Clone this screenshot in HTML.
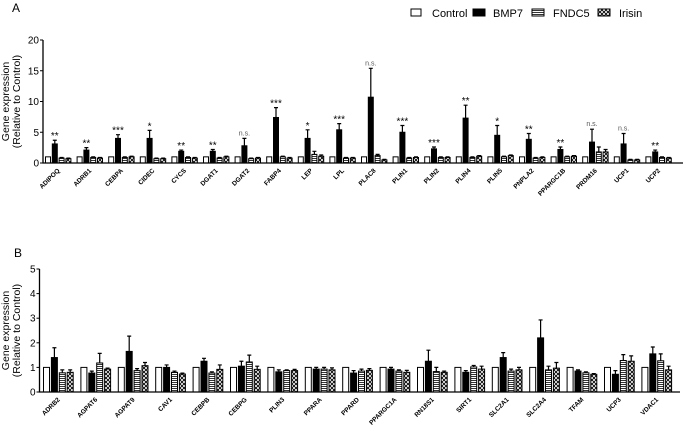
<!DOCTYPE html>
<html><head><meta charset="utf-8"><style>
body{margin:0;background:#fff;}
svg{display:block;font-family:"Liberation Sans",Arial,sans-serif;}
</style></head><body>
<svg id="chart" width="686" height="433" viewBox="0 0 686 433">
<defs>
<pattern id="hlines" patternUnits="userSpaceOnUse" width="4" height="2"><rect width="4" height="2" fill="#fff"/><line x1="0" y1="0.5" x2="4" y2="0.5" stroke="#000" stroke-width="0.8"/></pattern>
<pattern id="xhatch" patternUnits="userSpaceOnUse" width="4" height="4"><rect width="4" height="4" fill="#fff"/><path d="M0,0L4,4M4,0L0,4" stroke="#000" stroke-width="0.9"/></pattern>
</defs>
<text x="12" y="12" font-size="12">A</text>
<text x="14" y="257" font-size="12">B</text>
<g font-size="11">
<g><rect x="411" y="9" width="10" height="7" fill="#fff" stroke="#000"/><text x="432" y="17">Control</text></g>
<g><rect x="473" y="9" width="12" height="7" fill="#000" stroke="#000"/><text x="493" y="17">BMP7</text></g>
<g><rect x="532" y="9" width="12" height="7" fill="url(#hlines)" stroke="#000"/><text x="553" y="17">FNDC5</text></g>
<g><rect x="598" y="9" width="12" height="7" fill="url(#xhatch)" stroke="#000"/><text x="619" y="17">Irisin</text></g>
</g>
<g id="pa"></g>
<g id="pb"></g>
</svg>
<script>
const genesA=["ADIPOQ","ADRB1","CEBPA","CIDEC","CYCS","DGAT1","DGAT2","FABP4","LEP","LPL","PLAC8","PLIN1","PLIN2","PLIN4","PLIN5","PNPLA2","PPARGC1B","PRDM16","UCP1","UCP2"];
const ctrlA=[1,1,1,1,1,1,1,1,1,1,1,1,1,1,1,1,1,1,1,1];
const bmpA=[3.1,2.1,4.0,4.0,1.9,1.9,2.8,7.4,4.0,5.4,10.7,5.0,2.3,7.3,4.5,3.85,2.2,3.4,3.1,1.8];
const bmpErrA=[3.7,2.5,4.6,5.3,2.1,2.2,4.0,9.0,5.4,6.4,15.4,6.1,2.6,9.4,6.1,4.8,2.6,5.5,4.8,2.1];
const fndA=[0.8,0.9,0.9,0.7,0.9,0.8,0.7,1.0,1.4,0.8,1.2,0.8,0.9,0.9,1.0,0.8,1.0,1.8,0.5,0.9];
const fndErrA=[0.9,1.0,1.0,0.8,1.0,0.9,0.8,1.1,1.9,0.9,1.4,0.9,1.0,1.0,1.1,0.9,1.1,2.6,0.6,1.0];
const irsA=[0.7,0.8,1.0,0.7,0.8,1.0,0.8,0.8,1.1,0.8,0.5,0.9,0.9,1.1,1.2,0.9,1.1,1.8,0.5,0.8];
const irsErrA=[0.8,0.9,1.1,0.8,0.9,1.1,0.9,0.9,1.3,0.9,0.6,1.0,1.0,1.2,1.3,1.0,1.2,2.2,0.6,0.9];
const sigA=["**","**","***","*","**","**","n.s.","***","*","***","n.s.","***","***","**","*","**","**","n.s.","n.s.","**"];
const ticksA=[0,5,10,15,20];

const genesB=["ADRB2","AGPAT6","AGPAT9","CAV1","CEBPB","CEBPG","PLIN3","PPARA","PPARD","PPARGC1A","RN18S1","SIRT1","SLC2A1","SLC2A4","TFAM","UCP3","VDAC1"];
const ctrlB=[1,1,1,1,1,1,1,1,1,1,1,1,1,1,1,1,1];
const bmpB=[1.4,0.77,1.65,1.0,1.25,1.05,0.82,0.93,0.77,0.93,1.25,0.8,1.4,2.2,0.85,0.72,1.55];
const bmpErrB=[1.8,0.85,2.27,1.1,1.37,1.25,0.9,1.0,0.87,1.0,1.7,0.87,1.6,2.93,0.9,0.87,1.83];
const fndB=[0.78,1.18,0.87,0.8,0.77,1.22,0.87,0.93,0.85,0.85,0.83,1.02,0.85,0.9,0.78,1.28,1.27];
const fndErrB=[0.9,1.57,0.95,0.85,0.82,1.5,0.9,1.0,0.93,0.9,1.0,1.08,0.93,1.05,0.82,1.52,1.55];
const irsB=[0.8,0.93,1.07,0.73,0.92,0.92,0.87,0.9,0.88,0.8,0.8,0.93,0.9,0.97,0.72,1.25,0.9];
const irsErrB=[0.9,0.97,1.2,0.77,1.1,1.05,0.92,0.98,0.95,0.88,0.85,1.05,1.0,1.2,0.75,1.47,1.05];
const ticksB=[0,1,2,3,4,5];

const NS="http://www.w3.org/2000/svg";
function mk(p,tag,a){const e=document.createElementNS(NS,tag);for(const k in a)e.setAttribute(k,a[k]);p.appendChild(e);return e;}

function panel(g,cfg){
  const {genes,series,errs,sig,ticks,ax,ay0,ayTop,vmax,axEnd,x0,spacing,bw,pitch,titleX}=cfg;
  const y=v=>ay0-(v/vmax)*(ay0-ayTop);
  const fills=["#fff","#000","url(#hlines)","url(#xhatch)"];
  const names=["control","bmp7","fndc5","irisin"];
  genes.forEach((gn,i)=>{
    const gx=x0+i*spacing;
    const grp=mk(g,"g",{});
    
    
    series.forEach((s,j)=>{
      const bx=gx+j*pitch, v=s[i];
      const r=mk(grp,"rect",{x:bx,y:y(v),width:bw,height:ay0-y(v),fill:fills[j],stroke:"#000","stroke-width":1});
      
      
      if(errs[j]){
        const e=errs[j][i], cx=bx+bw/2;
        const eb=mk(grp,"path",{d:`M${cx},${y(v)}V${y(e)}M${cx-2},${y(e)}H${cx+2}`,stroke:"#000","stroke-width":1.2,fill:"none"});
        
        
      }
    });
    if(sig){
      const cx=gx+pitch+bw/2, ns=sig[i]==="n.s.";
      const t=mk(grp,"text",{x:cx,y:y(errs[1][i])-(ns?3:1),"text-anchor":"middle","font-size":ns?7:10,fill:ns?"#555":"#000"});
      t.textContent=sig[i];
      
      
    }
    const lx=gx+1.5*pitch+bw/2+2, ly=ay0+8;
    const lt=mk(grp,"text",{x:lx,y:ly,"text-anchor":"end","font-size":6.5,"font-weight":"bold",transform:`rotate(-45 ${lx} ${ly})`});
    lt.textContent=gn;
    
    
  });
  const axes=mk(g,"path",{d:`M${ax},${ayTop}V${ay0}H${axEnd}`,stroke:"#000","stroke-width":1.3,fill:"none"});
  
  
  ticks.forEach(t=>{
    mk(g,"line",{x1:ax-3,x2:ax,y1:y(t),y2:y(t),stroke:"#000","stroke-width":1});
    const tl=mk(g,"text",{x:ax-4,y:y(t)+3.5,"text-anchor":"end","font-size":10});
    tl.textContent=t;
    
    
  });
  const my=(ay0+ayTop)/2;
  const t1=mk(g,"text",{x:titleX,y:my,"text-anchor":"middle","font-size":10.5,transform:`rotate(-90 ${titleX} ${my})`});
  t1.textContent="Gene expression";
  
  
  const t2=mk(g,"text",{x:titleX+11,y:my,"text-anchor":"middle","font-size":10.5,transform:`rotate(-90 ${titleX+11} ${my})`});
  t2.textContent="(Relative to Control)";
  
  
}
panel(document.getElementById('pa'),{genes:genesA,series:[ctrlA,bmpA,fndA,irsA],errs:[null,bmpErrA,fndErrA,irsErrA],sig:sigA,ticks:ticksA,ax:43,ay0:163,ayTop:40,vmax:20,axEnd:683,x0:45.5,spacing:31.6,bw:5,pitch:6.8,titleX:9});
panel(document.getElementById('pb'),{genes:genesB,series:[ctrlB,bmpB,fndB,irsB],errs:[null,bmpErrB,fndErrB,irsErrB],sig:null,ticks:ticksB,ax:39.5,ay0:392,ayTop:269,vmax:5,axEnd:680,x0:43.5,spacing:37.4,bw:6,pitch:7.9,titleX:9});
</script>
</body></html>
